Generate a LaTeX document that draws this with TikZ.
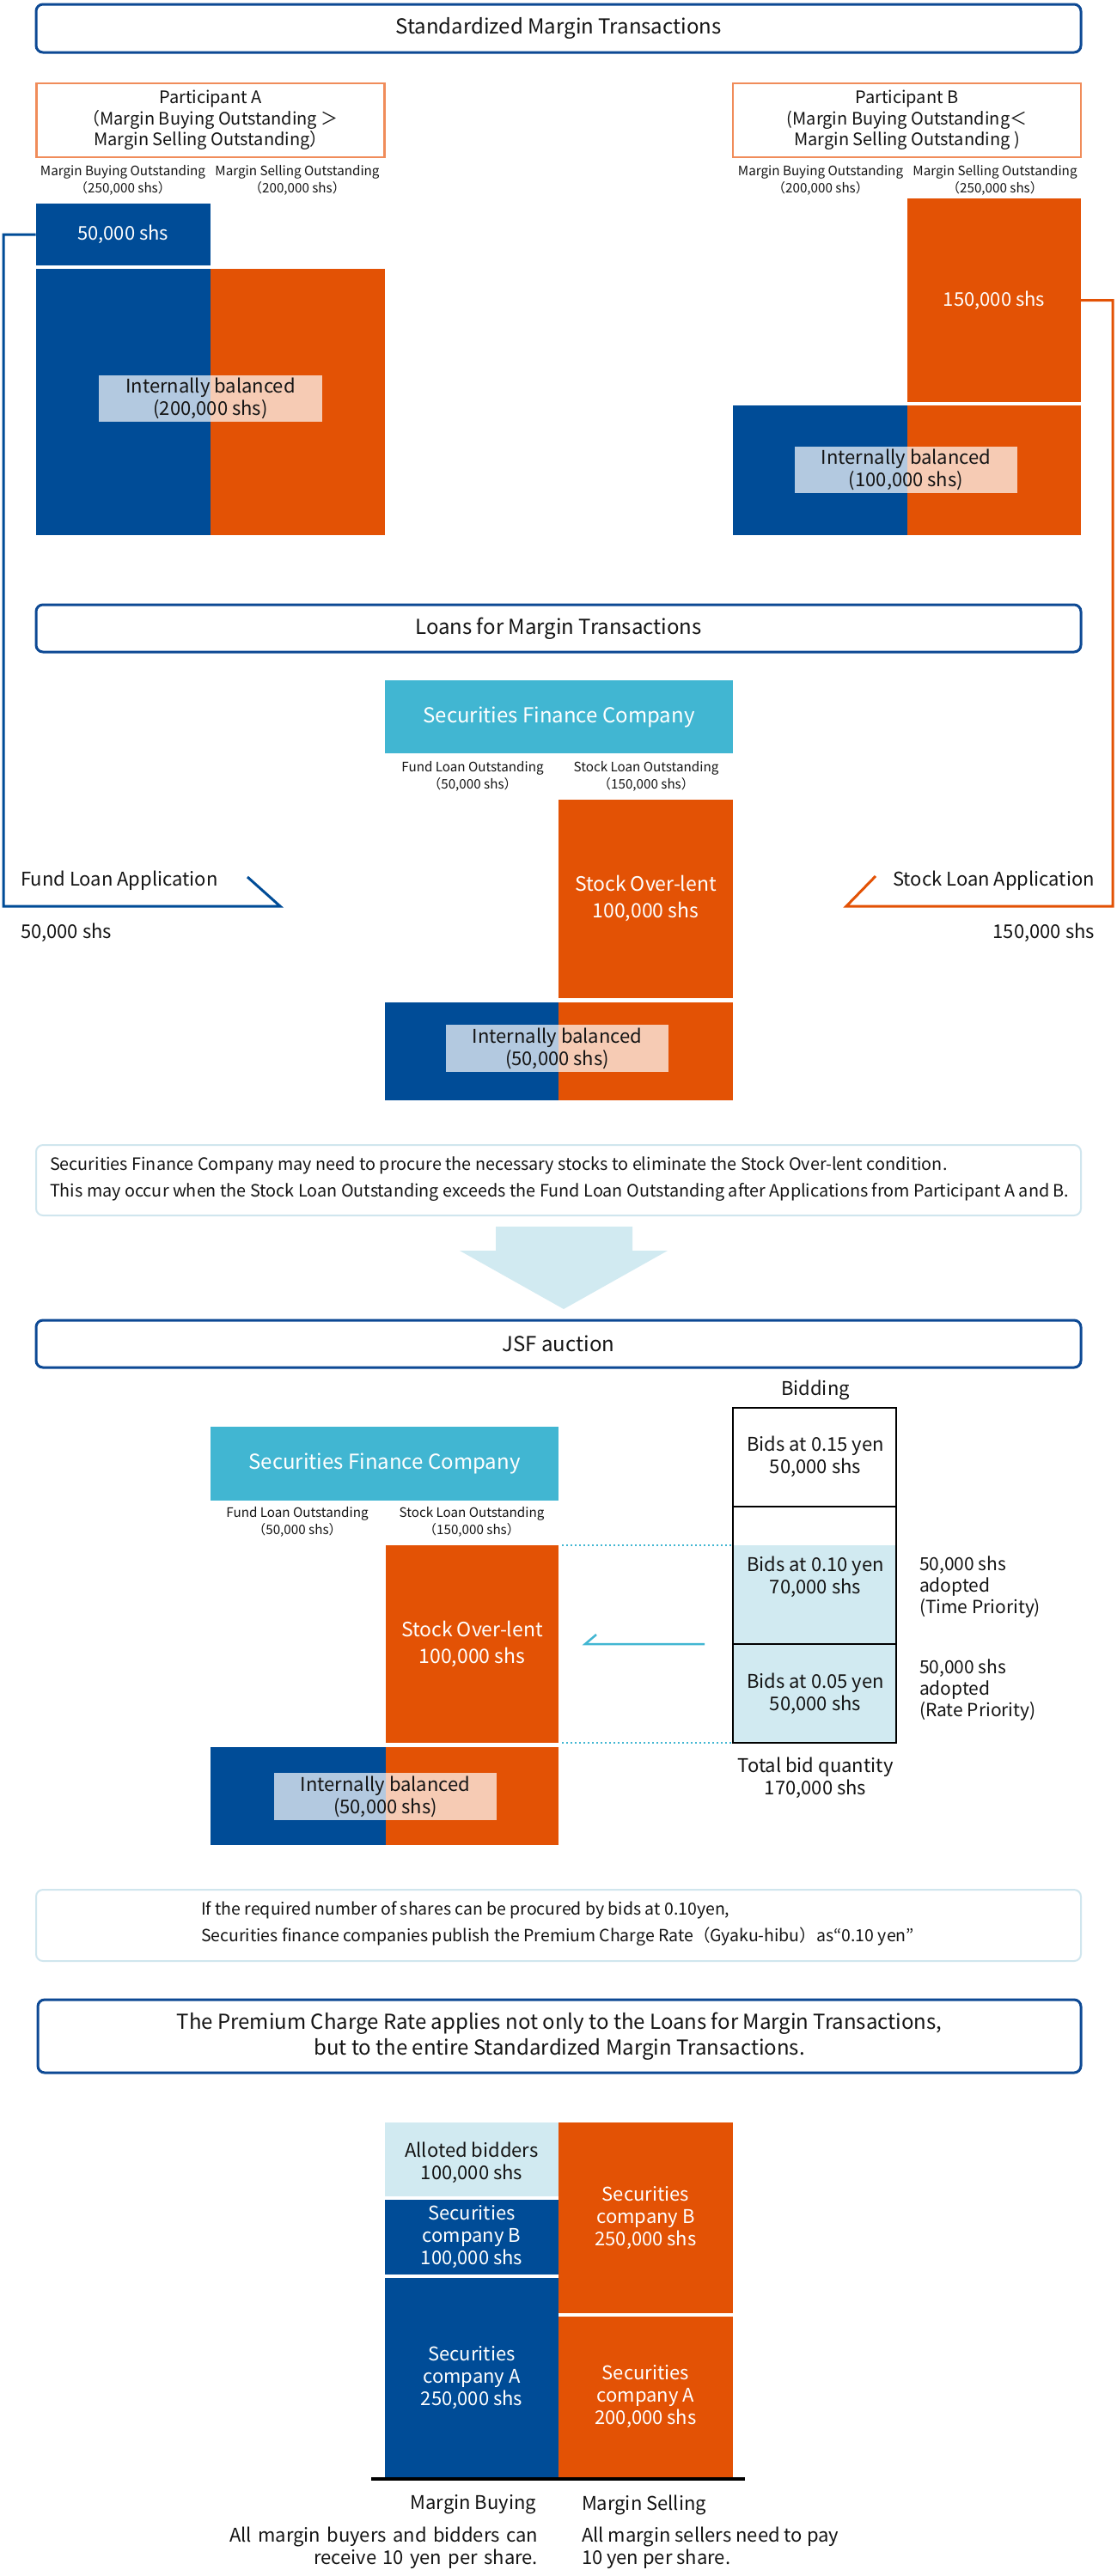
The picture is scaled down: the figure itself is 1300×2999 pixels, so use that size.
\documentclass[tikz,border=0pt]{standalone}
\usepackage{fontspec}
\setmainfont{Noto Sans CJK JP}
\definecolor{blueM}{RGB}{0,76,151}
\definecolor{orangeM}{RGB}{227,82,5}
\definecolor{tealM}{RGB}{65,182,210}
\definecolor{lightM}{RGB}{209,234,241}
\definecolor{titleM}{RGB}{13,73,148}
\definecolor{peachM}{RGB}{240,140,90}
\definecolor{noteM}{RGB}{208,230,238}
\definecolor{txtM}{RGB}{20,20,20}
\newcommand\fzBody{\fontsize{22}{26}\selectfont}
\newcommand\fzSmall{\fontsize{15.2}{20}\selectfont}
\newcommand\fzPart{\fontsize{20}{24.5}\selectfont}
\newcommand\fzTitle{\fontsize{24}{30}\selectfont}
\newcommand\fzNote{\fontsize{19.8}{31}\selectfont}
\newcommand\fzNoteB{\fontsize{19.5}{31}\selectfont}
\newcommand\fzAdopt{\fontsize{21}{25}\selectfont}
\newcommand\fzBig{\fontsize{23}{31}\selectfont}
\tikzset{
  every node/.style={inner sep=0pt, outer sep=0pt, text=txtM},
  blk/.style={fill=#1, draw=none, align=center, text=white, font=\fzBody},
  ovl/.style={fill=white, fill opacity=0.7, text opacity=1, align=center, text=txtM, font=\fzBody},
  titlebox/.style={draw=titleM, line width=3pt, rounded corners=8pt, fill=white, align=center, font=\fzTitle, minimum width=1216pt},
  partbox/.style={draw=peachM, line width=2.5pt, fill=white, align=center, font=\fzPart, minimum width=405pt, minimum height=86pt},
  notebox/.style={draw=noteM, line width=2pt, rounded corners=8pt, minimum width=1216pt},
  smalllbl/.style={align=center, font=\fzSmall},
  sfcbox/.style={fill=tealM, text=white, font=\fzTitle, minimum width=405pt, minimum height=85pt},
  bidcell/.style={draw=black, line width=2.5pt, minimum width=190pt, align=center, font=\fzBody},
}
\begin{document}
\begin{tikzpicture}[x=1pt,y=-1pt]
\useasboundingbox (0,0) rectangle (1300,2999);
\fill[white] (0,0) rectangle (1300,2999);

% ---------------- Section 1 ----------------
\node[titlebox, minimum height=56pt] (t1) at (650,33) {Standardized Margin Transactions};

\node[partbox] (pA) at (245,140) {Participant A\\（Margin Buying Outstanding ＞\\Margin Selling Outstanding）};
\node[smalllbl] (lA1) at (143,210) {Margin Buying Outstanding\\（250,000 shs）};
\node[smalllbl] (lA2) at (346,210) {Margin Selling Outstanding\\（200,000 shs）};
\node[blk=blueM, minimum width=203.5pt, minimum height=72pt] (bA1) at (143.25,273) {50,000 shs};
\node[blk=blueM, minimum width=203.5pt, minimum height=310pt] (bA2) at (143.25,468) {};
\node[blk=orangeM, minimum width=203pt, minimum height=310pt] (oA2) at (346.5,468) {};
\node[ovl, minimum width=260pt, minimum height=54pt] (ovA) at (245,464) {Internally balanced\\(200,000 shs)};

\node[partbox] (pB) at (1055.5,140) {Participant B\\(Margin Buying Outstanding＜\\Margin Selling Outstanding )};
\node[smalllbl] (lB1) at (955,210) {Margin Buying Outstanding\\（200,000 shs）};
\node[smalllbl] (lB2) at (1158,210) {Margin Selling Outstanding\\（250,000 shs）};
\node[blk=orangeM, minimum width=202pt, minimum height=237pt] (oB1) at (1157,349.5) {150,000 shs};
\node[blk=blueM, minimum width=203pt, minimum height=151pt] (bB2) at (954.5,547.5) {};
\node[blk=orangeM, minimum width=202pt, minimum height=151pt] (oB2) at (1157,547.5) {};
\node[ovl, minimum width=259pt, minimum height=54pt] (ovB) at (1054.5,547) {Internally balanced\\(100,000 shs)};

% ---------------- Section 2 ----------------
\node[titlebox, minimum height=55pt] (t2) at (650,731.5) {Loans for Margin Transactions};
\node[sfcbox] (sfc1) at (650.5,834.5) {Securities Finance Company};
\node[smalllbl] (lF1) at (550,903.5) {Fund Loan Outstanding\\（50,000 shs）};
\node[smalllbl] (lS1) at (752,903.5) {Stock Loan Outstanding\\（150,000 shs）};
\node[blk=orangeM, font=\fzBig, minimum width=203pt, minimum height=231pt] (oOL1) at (751.5,1046.5) {Stock Over-lent\\100,000 shs};
\node[blk=blueM, minimum width=202pt, minimum height=114pt] (bL1) at (549,1224) {};
\node[blk=orangeM, minimum width=203pt, minimum height=114pt] (oL1) at (751.5,1224) {};
\node[ovl, minimum width=259pt, minimum height=55pt] (ovL1) at (648.5,1220.5) {Internally balanced\\(50,000 shs)};

% application connectors
\node[anchor=west, font=\fzBody] (fundApp) at (24,1025) {Fund Loan Application};
\node[anchor=west, font=\fzBody] (fundQty) at (24,1086) {50,000 shs};
\node[anchor=east, font=\fzBody] (stockApp) at (1274,1025) {Stock Loan Application};
\node[anchor=east, font=\fzBody] (stockQty) at (1274,1086) {150,000 shs};
\coordinate (fundKnee) at (326,1055);
\coordinate (fundEnd) at (288,1021);
\coordinate (stockKnee) at (985,1055);
\coordinate (stockEnd) at (1019,1020);
\draw[blueM, line width=3pt] (bA1.west) -- (4,273) |- (fundKnee) -- (fundEnd);
\draw[orangeM, line width=3pt] (oB1.east) -- (1295,349.5) |- (stockKnee) -- (stockEnd);

% note 1
\node[notebox, minimum height=82pt] (n1) at (650,1374) {};
\node[anchor=west, align=left, font=\fzNote] (n1t) at (58,1372.5) {Securities Finance Company may need to procure the necessary stocks to eliminate the Stock Over-lent condition.\\This may occur when the Stock Loan Outstanding exceeds the Fund Loan Outstanding after Applications from Participant A and B.};

% big arrow
\fill[lightM] (577,1428) -- (736,1428) -- (736,1456) -- (777,1456) -- (656,1524) -- (535,1456) -- (577,1456) -- cycle;

% ---------------- Section 3 ----------------
\node[titlebox, minimum height=55pt] (t3) at (650,1564.5) {JSF auction};
\node[font=\fzBody] (bidH) at (949,1618) {Bidding};
\fill[lightM] (853,1799) rectangle (1043,2029);
\node[bidcell, minimum height=115pt] (bid1) at (948,1696.5) {};
\node[bidcell, minimum height=160pt] (bid2) at (948,1834) {};
\node[bidcell, minimum height=115pt] (bid3) at (948,1971.5) {};
\node[align=center, font=\fzBody] (bid1t) at (949,1696) {Bids at 0.15 yen\\50,000 shs};
\node[align=center, font=\fzBody] (bid2t) at (949,1836) {Bids at 0.10 yen\\70,000 shs};
\node[align=center, font=\fzBody] (bid3t) at (949,1972) {Bids at 0.05 yen\\50,000 shs};
\node[anchor=west, align=left, font=\fzAdopt] (ad1) at (1070,1848) {50,000 shs\\adopted\\(Time Priority)};
\node[anchor=west, align=left, font=\fzAdopt] (ad2) at (1070,1968) {50,000 shs\\adopted\\(Rate Priority)};
\node[align=center, font=\fzBody] (tot) at (949,2070) {Total bid quantity\\170,000 shs};

\node[sfcbox, minimum height=86pt] (sfc2) at (447.5,1704) {Securities Finance Company};
\node[smalllbl] (lF2) at (346,1772) {Fund Loan Outstanding\\（50,000 shs）};
\node[smalllbl] (lS2) at (549,1772) {Stock Loan Outstanding\\（150,000 shs）};
\node[blk=orangeM, font=\fzBig, minimum width=201pt, minimum height=230pt] (oOL2) at (549.5,1914) {Stock Over-lent\\100,000 shs};
\node[blk=blueM, minimum width=204pt, minimum height=114pt] (bL2) at (347,2091) {};
\node[blk=orangeM, minimum width=201pt, minimum height=114pt] (oL2) at (549.5,2091) {};
\node[ovl, minimum width=259pt, minimum height=55pt] (ovL2) at (448.5,2091.5) {Internally balanced\\(50,000 shs)};

\draw[tealM, line width=2pt, dash pattern=on 2pt off 3pt] (oOL2.north east) ++(4,0) -- (bid2.west |- oOL2.north east);
\draw[tealM, line width=2pt, dash pattern=on 2pt off 3pt] (oOL2.south east) ++(4,0) -- (bid3.south west);
\coordinate (arrStart) at (820,1914);
\coordinate (arrEnd) at (681,1914);
\draw[tealM, line width=2.5pt] (arrStart) -- (arrEnd) -- (694,1903);

% note 2
\node[notebox, minimum height=83pt] (n2) at (650,2241.5) {};
\node[anchor=west, align=left, font=\fzNoteB] (n2t) at (234,2239.5) {If the required number of shares can be procured by bids at 0.10yen,\\Securities finance companies publish the Premium Charge Rate（Gyaku-hibu）as“0.10 yen”};

% ---------------- Section 4 ----------------
\node[titlebox, minimum height=85pt, minimum width=1214pt] (t4) at (651,2370.5) {The Premium Charge Rate applies not only to the Loans for Margin Transactions,\\but to the entire Standardized Margin Transactions.};

\node[blk=lightM, text=txtM, minimum width=202pt, minimum height=86pt] (allot) at (549,2514) {};
\node[align=center, font=\fzBody] (allott) at (549,2518) {Alloted bidders\\100,000 shs};
\node[blk=blueM, minimum width=202pt, minimum height=87pt] (bSB) at (549,2604.5) {Securities\\company B\\100,000 shs};
\node[blk=blueM, minimum width=202pt, minimum height=232pt] (bSA) at (549,2768) {Securities\\company A\\250,000 shs};
\node[blk=orangeM, minimum width=203pt, minimum height=222pt] (oSB) at (751.5,2582) {Securities\\company B\\250,000 shs};
\node[blk=orangeM, minimum width=203pt, minimum height=187pt] (oSA) at (751.5,2790.5) {Securities\\company A\\200,000 shs};
\coordinate (baseL) at (432,2886);
\coordinate (baseR) at (867,2886);
\draw[black, line width=4pt] (baseL) -- (baseR);

\node[anchor=east, font=\fzBody] (mb) at (624,2916) {Margin Buying};
\node[anchor=east, align=right, font=\fzBody, text width=420pt] (mbt) at (626,2966) {All margin buyers and bidders can\\receive 10 yen per share.};
\node[anchor=west, font=\fzBody] (ms) at (677,2916) {Margin Selling};
\node[anchor=west, align=left, font=\fzBody] (mst) at (677,2966) {All margin sellers need to pay\\10 yen per share.};
\end{tikzpicture}
\end{document}
